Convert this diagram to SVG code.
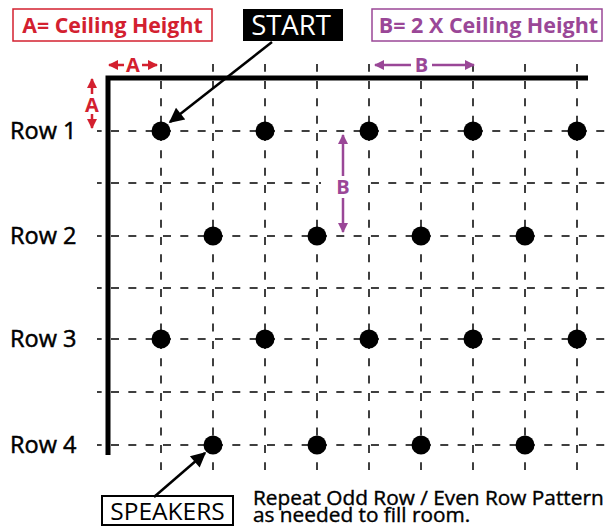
<svg xmlns="http://www.w3.org/2000/svg" width="610" height="527" viewBox="0 0 610 527">
<defs>
<style>
.gh{stroke:#000;stroke-width:1.5;stroke-dasharray:8 9.33;stroke-dashoffset:3.33;fill:none}
.gv{stroke:#000;stroke-width:1.5;stroke-dasharray:8 9.33;stroke-dashoffset:0.33;fill:none}
.wall{stroke:#000;stroke-width:5;fill:none}
.dot{fill:#000}
.row{font-family:"Open Sans",sans-serif;font-size:23.5px;font-weight:400;fill:#000;stroke:#000;stroke-width:0.5px}
.red{stroke:#d3202f;stroke-width:2.5;fill:none}
.pur{stroke:#9a4797;stroke-width:2.5;fill:none}
.redt{font-family:"Open Sans",sans-serif;font-weight:700;fill:#d3202f}
.purt{font-family:"Open Sans",sans-serif;font-weight:700;fill:#9a4797}
.blk{stroke:#000;stroke-width:2.5;fill:none}
</style>
<marker id="mr" viewBox="0 0 10 10" refX="9" refY="5" markerWidth="4" markerHeight="4.4" orient="auto-start-reverse" markerUnits="strokeWidth"><path d="M0,0L10,5L0,10z" fill="#d3202f"/></marker>
<marker id="mp" viewBox="0 0 10 10" refX="9" refY="5" markerWidth="4" markerHeight="4.4" orient="auto-start-reverse" markerUnits="strokeWidth"><path d="M0,0L10,5L0,10z" fill="#9a4797"/></marker>
<marker id="mk" viewBox="0 0 10 10" refX="9" refY="5" markerWidth="7" markerHeight="6" orient="auto" markerUnits="strokeWidth"><path d="M0,0L10,5L0,10z" fill="#000"/></marker>
</defs>
<rect width="610" height="527" fill="#fff"/>
<g id="grid">
<path class="gh" d="M97,131H610M97,183H610M97,236H610M97,288H610M97,339H610M97,392H610M97,445H610"/>
<path class="gv" d="M161,64V470M213,64V470M265,64V470M317,64V470M369,64V470M421,64V470M473,64V470M525,64V470M577,64V470"/>
</g>
<g id="walls">
<path class="wall" d="M108,455V78H588"/>
</g>
<g id="speakers">
<circle class="dot" cx="161" cy="131" r="9.5"/><circle class="dot" cx="265" cy="131" r="9.5"/><circle class="dot" cx="369" cy="131" r="9.5"/><circle class="dot" cx="473" cy="131" r="9.5"/><circle class="dot" cx="577" cy="131" r="9.5"/>
<circle class="dot" cx="213" cy="236" r="9.5"/><circle class="dot" cx="317" cy="236" r="9.5"/><circle class="dot" cx="421" cy="236" r="9.5"/><circle class="dot" cx="525" cy="236" r="9.5"/>
<circle class="dot" cx="161" cy="339" r="9.5"/><circle class="dot" cx="265" cy="339" r="9.5"/><circle class="dot" cx="369" cy="339" r="9.5"/><circle class="dot" cx="473" cy="339" r="9.5"/><circle class="dot" cx="577" cy="339" r="9.5"/>
<circle class="dot" cx="213" cy="445" r="9.5"/><circle class="dot" cx="317" cy="445" r="9.5"/><circle class="dot" cx="421" cy="445" r="9.5"/><circle class="dot" cx="525" cy="445" r="9.5"/>
</g>
<g id="rows">
<text class="row" x="10" y="139">Row 1</text>
<text class="row" x="10" y="244">Row 2</text>
<text class="row" x="10" y="347">Row 3</text>
<text class="row" x="10" y="453">Row 4</text>
</g>
<g id="legendA">
<rect x="13" y="9" width="199" height="32" fill="#fff" stroke="#d3202f" stroke-width="1.5"/>
<text class="redt" x="112.5" y="32.5" font-size="21.3" text-anchor="middle">A= Ceiling Height</text>
</g>
<g id="legendB">
<rect x="372" y="9" width="230" height="32" fill="#fff" stroke="#9a4797" stroke-width="1.5"/>
<text class="purt" x="488.5" y="32.5" font-size="21.5" text-anchor="middle">B= 2 X Ceiling Height</text>
</g>
<g id="start">
<rect x="243" y="9" width="100" height="32" fill="#000"/>
<text x="291" y="35" font-family="Open Sans,sans-serif" font-size="27.5" fill="#fff" text-anchor="middle">START</text>
</g>
<g id="speakersLabel">
<rect x="102" y="496" width="131" height="29" fill="#fff" stroke="#000" stroke-width="2"/>
<text x="167.5" y="519.5" font-family="Open Sans,sans-serif" font-size="24.5" fill="#000" text-anchor="middle">SPEAKERS</text>
</g>
<g id="note" font-family="Open Sans,sans-serif" font-size="20.8" fill="#000" stroke="#000" stroke-width="0.4">
<text x="253" y="505">Repeat Odd Row / Even Row Pattern</text>
<text x="253" y="521.5">as needed to fill room.</text>
</g>
<g id="connectors">
<path class="red" d="M109,65H124M142,65H157" marker-start="url(#mr)" marker-end="url(#mr)"/>
<text class="redt" x="133" y="72" font-size="20" text-anchor="middle">A</text>
<path class="red" d="M92,79V94M92,114V128" marker-start="url(#mr)" marker-end="url(#mr)"/>
<text class="redt" x="92" y="111.5" font-size="20" text-anchor="middle">A</text>
<rect x="411" y="54" width="21" height="21" fill="#fff"/>
<path class="pur" d="M375,65H411M432,65H474" marker-start="url(#mp)" marker-end="url(#mp)"/>
<text class="purt" x="421.5" y="72" font-size="20" text-anchor="middle">B</text>
<rect x="321" y="176" width="45" height="21" fill="#fff"/>
<path class="pur" d="M343,135V176M343,198V232" marker-start="url(#mp)" marker-end="url(#mp)"/>
<text class="purt" x="343" y="194" font-size="20" text-anchor="middle">B</text>
<path class="blk" d="M272,42L170,122" marker-end="url(#mk)"/>
<path class="blk" d="M154,497L205,453" marker-end="url(#mk)"/>
</g>
</svg>
